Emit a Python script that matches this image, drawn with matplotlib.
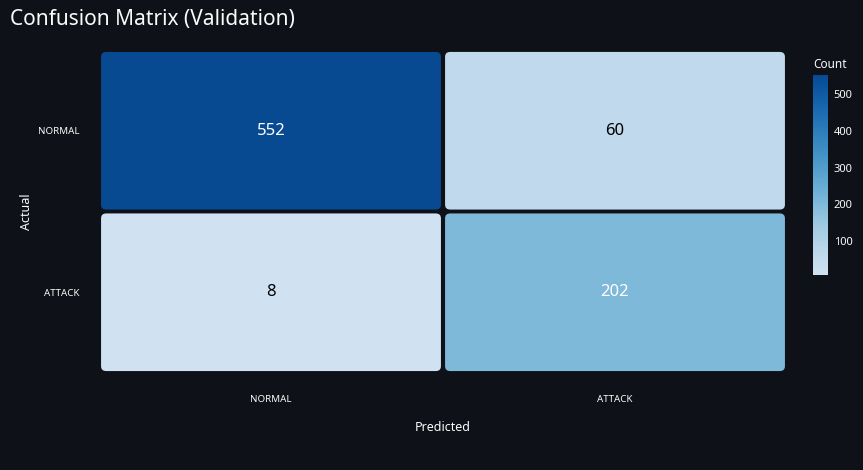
import numpy as np
import matplotlib
matplotlib.use("Agg")
import matplotlib.pyplot as plt
from matplotlib.colors import LinearSegmentedColormap, Normalize
from matplotlib.patches import FancyBboxPatch
from matplotlib.cm import ScalarMappable

labels = ["NORMAL", "ATTACK"]
counts = np.array([[552, 60],
                   [8, 202]])

bg = "#0e1117"
fg = "#fafafa"
plt.rcParams['font.family'] = ['Noto Sans', 'DejaVu Sans']

blues = plt.get_cmap("Blues")
cmap = LinearSegmentedColormap.from_list("b", blues(np.linspace(0.2, 0.9, 256)))
norm = Normalize(vmin=counts.min(), vmax=counts.max())

fig = plt.figure(figsize=(8.63, 4.70), dpi=100, facecolor=bg)
ax = fig.add_axes([99/863, 1 - 373/470, 688/863, 323/470])
ax.set_facecolor(bg)
ax.set_xlim(-0.5, 1.5)
ax.set_ylim(1.5, -0.5)

gap = 0.006
for i in range(2):
    for j in range(2):
        v = counts[i, j]
        c = cmap(norm(v))
        p = FancyBboxPatch((j - 0.5 + gap, i - 0.5 + gap * 2), 1 - 2 * gap, 1 - 4 * gap,
                           boxstyle="round,pad=0,rounding_size=0.015",
                           facecolor=c, edgecolor="none", mutation_aspect=2)
        ax.add_patch(p)
        tc = "white" if norm(v) > 0.3 else "black"
        ax.text(j, i, str(v), ha="center", va="center", color=tc,
                fontsize=12, fontweight="bold")

ax.set_xticks([0, 1])
ax.set_xticklabels(labels)
ax.set_yticks([0, 1])
ax.set_yticklabels(labels)
ax.tick_params(colors=fg, labelsize=7, length=0, pad=14)
ax.tick_params(axis="x", pad=16)
for s in ax.spines.values():
    s.set_visible(False)
ax.set_xlabel("Predicted", color=fg, fontsize=9, labelpad=12)
ax.set_ylabel("Actual", color=fg, fontsize=9, labelpad=4)

fig.text(10/863, 1 - 20/470, "Confusion Matrix (Validation)", color=fg,
         fontsize=15, fontweight="bold", va="center")

cax = fig.add_axes([813/863, 1 - 275/470, 15/863, 200/470])
cb = fig.colorbar(ScalarMappable(norm=norm, cmap=cmap), cax=cax)
cb.set_ticks([100, 200, 300, 400, 500])
cb.outline.set_visible(False)
cax.tick_params(colors=fg, labelsize=8, length=0, pad=4)
fig.text(813/863, 1 - 64/470, "Count", color=fg, fontsize=8.5, va="center")

fig.savefig("out.png", dpi=100, facecolor=bg)
